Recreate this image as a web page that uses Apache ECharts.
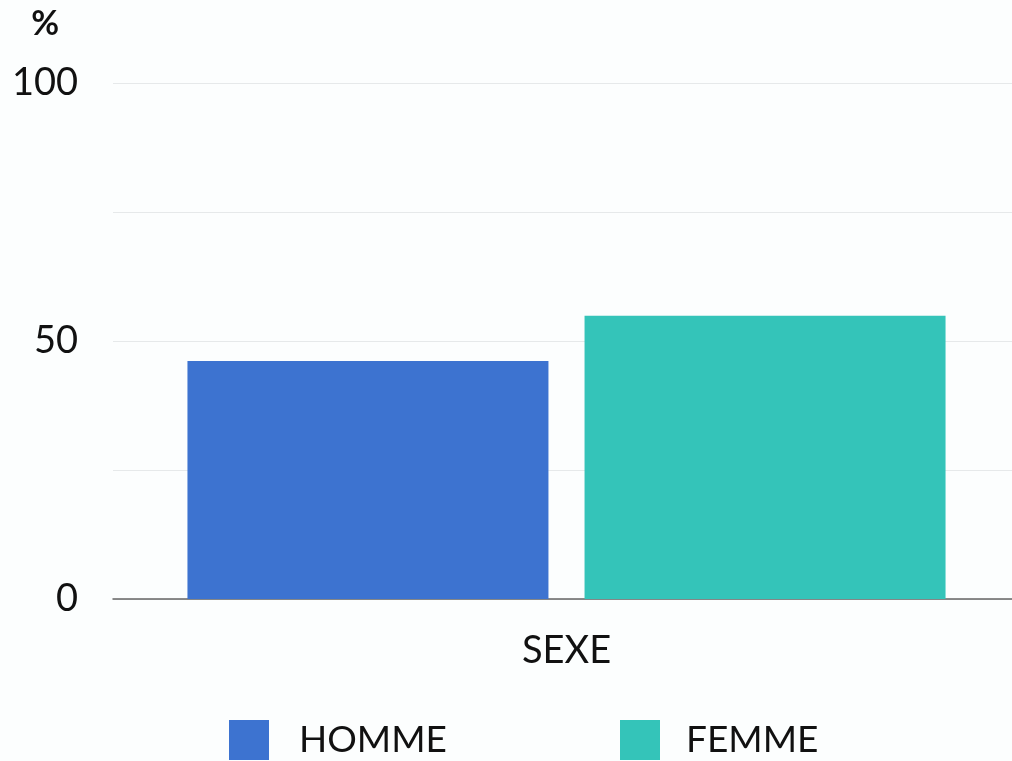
<!DOCTYPE html>
<html>
<head>
<meta charset="utf-8">
<script src="https://cdn.jsdelivr.net/npm/echarts@6/dist/echarts.min.js"></script>
<style>
  html, body { margin: 0; padding: 0; background: #fcfefe; }
  #chart { width: 1012px; height: 761px; }
</style>
</head>
<body>
<div id="chart"></div>
<script>
// données
var categories = ['SEXE'];
var seriesNames = ['HOMME', 'FEMME'];
var hommeValues = [46.1];
var femmeValues = [54.9];
var yLabels = [0, 50, 100];

(function () {
  var myChart = echarts.init(document.getElementById('chart'));
  var font = 'Lato';
  var colors = ['#3d73d0', '#34c4b9'];

  var option = {
    backgroundColor: '#fcfefe',
    color: colors,
    textStyle: { fontFamily: font },
    grid: {
      top: 83,
      left: 113,
      right: -8,
      bottom: 162,
      outerBoundsMode: 'none'
    },
    // deux légendes pour placer chaque élément
    legend: [
      {
        data: [seriesNames[0]],
        left: 224,
        top: 715,
        itemWidth: 40,
        itemHeight: 40,
        icon: 'rect',
        textStyle: { fontSize: 37, color: '#111', fontFamily: font, padding: [0, 0, 0, 25] }
      },
      {
        data: [seriesNames[1]],
        left: 615,
        top: 715,
        itemWidth: 40,
        itemHeight: 40,
        icon: 'rect',
        textStyle: { fontSize: 37, color: '#111', fontFamily: font, padding: [0, 0, 0, 21] }
      }
    ],
    xAxis: {
      type: 'category',
      data: categories,
      axisTick: { show: false },
      axisLine: { lineStyle: { color: '#666', width: 1.5 } },
      axisLabel: { color: '#111', fontSize: 38, margin: 33, fontFamily: font }
    },
    yAxis: {
      type: 'value',
      min: 0,
      max: 100,
      interval: 25,
      name: '%',
      nameLocation: 'end',
      nameGap: 42,
      nameTextStyle: {
        fontSize: 34,
        fontWeight: 'bold',
        color: '#111',
        align: 'right',
        padding: [0, 54, 0, 0],
        fontFamily: font
      },
      axisLine: { show: false },
      axisTick: { show: false },
      axisLabel: {
        color: '#111',
        fontSize: 38,
        margin: 35,
        fontFamily: font,
        formatter: function (v) {
          return yLabels.indexOf(v) >= 0 ? String(v) : '';
        }
      },
      splitLine: { lineStyle: { color: '#e6e9ea', width: 1 } }
    },
    series: [
      {
        name: seriesNames[0],
        type: 'bar',
        data: hommeValues,
        barWidth: 361,
        barGap: '10%'
      },
      {
        name: seriesNames[1],
        type: 'bar',
        data: femmeValues,
        barWidth: 361,
        barGap: '10%'
      }
    ]
  };

  myChart.setOption(option);
  window.addEventListener('resize', () => myChart.resize());
})();
</script>
</body>
</html>
